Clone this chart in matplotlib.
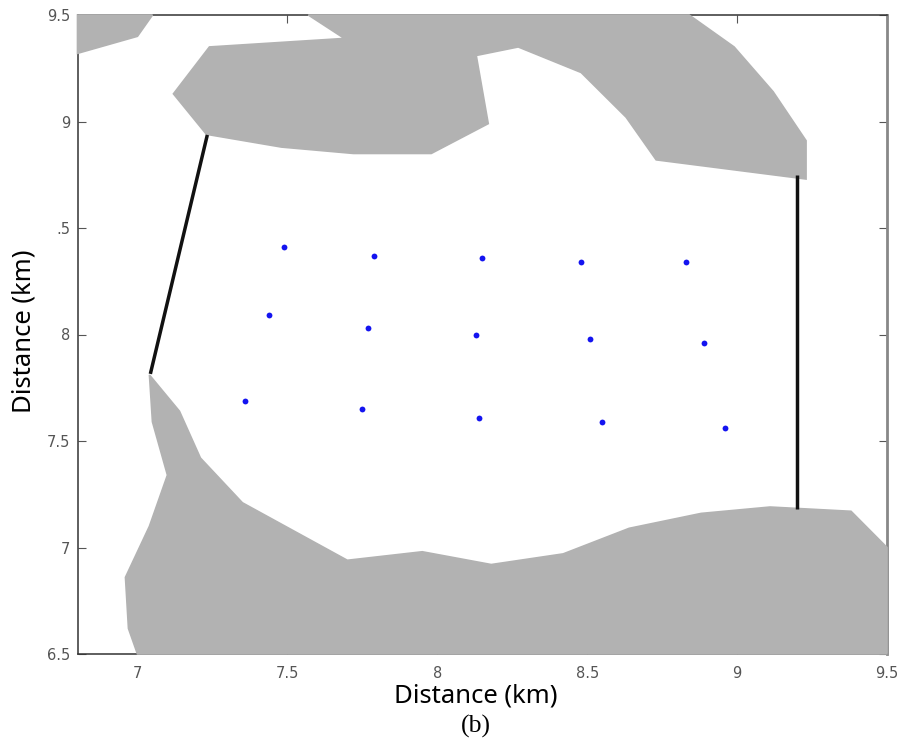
import matplotlib
matplotlib.use("Agg")
import matplotlib.pyplot as plt

# obstacle outlines (km)
corner_x = [6.80, 7.05, 7.00, 6.80]
corner_y = [9.50, 9.50, 9.40, 9.32]

top_x = [7.57, 8.84, 8.99, 9.12, 9.23, 9.23, 8.73, 8.63, 8.48, 8.27, 8.13, 8.17,
         7.98, 7.72, 7.48, 7.23, 7.12, 7.24, 7.69]
top_y = [9.50, 9.50, 9.35, 9.14, 8.91, 8.73, 8.82, 9.02, 9.23, 9.35, 9.31, 8.99,
         8.85, 8.85, 8.88, 8.94, 9.13, 9.35, 9.39]

bottom_x = [7.04, 7.14, 7.21, 7.35, 7.70, 7.95, 8.18, 8.42, 8.64, 8.88, 9.11, 9.38,
            9.50, 9.50, 7.00, 6.97, 6.96, 7.04, 7.10, 7.05]
bottom_y = [7.81, 7.64, 7.42, 7.21, 6.94, 6.98, 6.92, 6.97, 7.09, 7.16, 7.19, 7.17,
            7.00, 6.50, 6.50, 6.62, 6.86, 7.10, 7.34, 7.59]

# the two black walls
wall_left_x = [7.233, 7.043]
wall_left_y = [8.937, 7.815]
wall_right_x = [9.20, 9.20]
wall_right_y = [8.75, 7.18]

# sensor positions
sensor_x = [7.49, 7.79, 8.15, 8.48, 8.83,
            7.44, 7.77, 8.13, 8.51, 8.89,
            7.36, 7.75, 8.14, 8.55, 8.96]
sensor_y = [8.41, 8.37, 8.36, 8.34, 8.34,
            8.09, 8.03, 8.00, 7.98, 7.96,
            7.69, 7.65, 7.61, 7.59, 7.56]

x_ticks = [7, 7.5, 8, 8.5, 9, 9.5]
x_tick_labels = ["7", "7.5", "8", "8.5", "9", "9.5"]
y_ticks = [6.5, 7, 7.5, 8, 8.5, 9, 9.5]
y_tick_labels = ["6.5", "7", "7.5", "8", ".5", "9", "9.5"]

W, H = 897, 742
fig = plt.figure(figsize=(W / 100, H / 100), dpi=100)
ax = fig.add_axes([77.5 / W, 1 - 654 / H, (887 - 77.5) / W, (654 - 15) / H])

gray = "#b2b2b2"
for xs, ys in [(corner_x, corner_y), (top_x, top_y), (bottom_x, bottom_y)]:
    # unclipped edge so the fill hides the frame where they meet
    ax.fill(xs, ys, facecolor=gray, edgecolor=gray, lw=1.2, zorder=3, clip_on=False)

ax.plot(wall_left_x, wall_left_y, color="#111111", lw=2.5, zorder=4, solid_capstyle="butt")
ax.plot(wall_right_x, wall_right_y, color="#111111", lw=2.5, zorder=4, solid_capstyle="butt")
ax.plot(sensor_x, sensor_y, ls="none", marker="o", ms=4.2, color="#1414f0", mew=0, zorder=5)

ax.set_xlim(6.8, 9.5)
ax.set_ylim(6.5, 9.5)
ax.set_xticks(x_ticks, x_tick_labels)
ax.set_yticks(y_ticks, y_tick_labels)
ax.set_axisbelow(True)
ax.tick_params(direction="in", top=True, right=True, length=6, width=0.8, color="#555555",
               labelcolor="#555555", labelsize=10.5)
ax.tick_params(axis="x", pad=9)
ax.tick_params(axis="y", pad=5)

for side, spine in ax.spines.items():
    spine.set_linewidth(1.1)
    spine.set_color("#333333")
ax.spines["right"].set_color("#888888")
ax.spines["right"].set_linewidth(2.0)

label_font = "Noto Sans"
fig.text(476 / W, 1 - 696 / H, "Distance (km)", family=label_font, fontsize=18.5,
         ha="center", va="center", color="black")
fig.text(24 / W, 1 - 331 / H, "Distance (km)", family=label_font, fontsize=18.5,
         rotation=90, ha="center", va="center", color="black")
fig.text(476 / W, 1 - 726 / H, "(b)", family="Liberation Serif", fontsize=18.5,
         ha="center", va="center", color="black")

fig.savefig("out.png", dpi=100)
plt.close(fig)
